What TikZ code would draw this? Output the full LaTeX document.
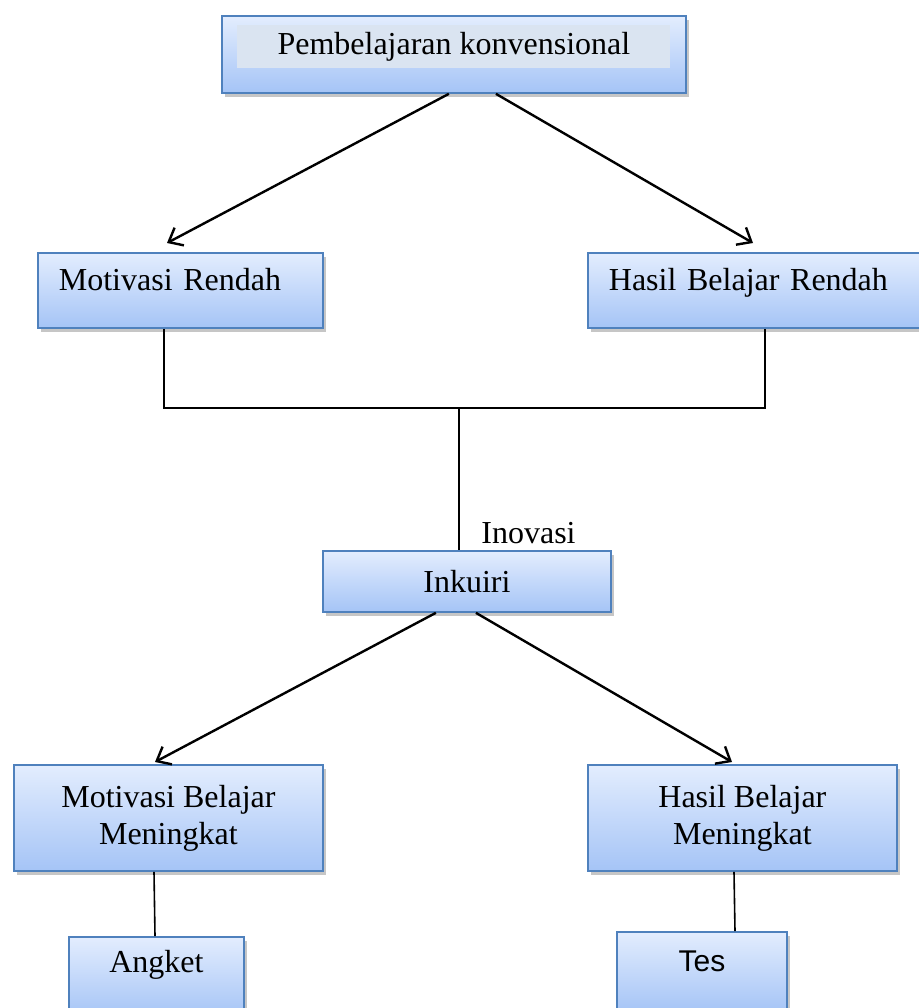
\documentclass[tikz,border=0pt]{standalone}
\usepackage{fontspec}
\setmainfont{Liberation Serif}
\newfontfamily\arialfont{Liberation Sans}
\usetikzlibrary{arrows.meta,calc,positioning,shadows}
\definecolor{BoxTop}{HTML}{E3EDFE}
\definecolor{BoxBottom}{HTML}{A5C4F6}
\definecolor{BoxEdge}{HTML}{4F81BD}
\definecolor{Highlight}{HTML}{DAE4F1}
\definecolor{Ink}{HTML}{000000}
\tikzset{
  blockbox/.style={
    draw=BoxEdge, line width=0.9pt, top color=BoxTop, bottom color=BoxBottom,
    drop shadow={opacity=0.45, shadow xshift=1.5pt, shadow yshift=-2pt},
    anchor=north west, inner sep=0pt, align=center,
    font=\fontsize{16}{18.5}\selectfont
  },
  lowbox/.style={blockbox, text height=11pt},
  flow/.style={-{Straight Barb[length=6pt,width=10pt]}, line width=1.2pt, draw=Ink},
  link/.style={line width=0.8pt, draw=Ink}
}
\begin{document}
\begin{tikzpicture}[x=0.5pt,y=-0.5pt]
    \useasboundingbox (0,0) rectangle (918,1008);
    \node[blockbox,minimum width=232pt,minimum height=38.5pt] (konvBox) at (221,15) {};
    \node[anchor=north west,fill=Highlight,inner sep=0pt,minimum width=216.5pt,minimum height=21.5pt,
      font=\fontsize{16}{18.5}\selectfont] (konv) at (237,25) {Pembelajaran konvensional};
    \node[lowbox,minimum width=142.5pt,minimum height=37.5pt,text depth=10.5pt,
      text width=121.5pt,align=left] (rendah) at (37,252) {Motivasi Rendah};
    \node[lowbox,minimum width=171.5pt,minimum height=37.5pt,text depth=10.5pt,
      text width=150.5pt,align=left] (hasilRendah) at (587,252) {Hasil Belajar Rendah};
    \coordinate (join) at (459,408);
    \node[blockbox,minimum width=144pt,minimum height=30.5pt] (inkuiri) at (322,550) {Inkuiri};
    \node[anchor=base west,inner sep=0pt,font=\fontsize{16}{18.5}\selectfont] (inovasi) at (481,543) {Inovasi};
    \node[blockbox,minimum width=154.5pt,minimum height=53pt] (belajarNaik) at (13,764) {Motivasi Belajar\\Meningkat};
    \node[blockbox,minimum width=154.5pt,minimum height=53pt] (hasilNaik) at (587,764) {Hasil Belajar\\Meningkat};
    \node[lowbox,minimum width=87.5pt,minimum height=40pt,text depth=15pt] (angket) at (68,936) {Angket};
    \node[lowbox,minimum width=85pt,minimum height=40pt,text depth=11pt,
      font=\arialfont\fontsize{15}{18}\selectfont] (tes) at (616,931) {Tes};
    \draw[flow] ([xshift=-2.5pt]konvBox.south) -- ([xshift=65pt,yshift=4.5pt]rendah.north west);
    \draw[flow] ([xshift=21pt]konvBox.south) -- ([xshift=83pt,yshift=4.5pt]hasilRendah.north west);
    \draw[link] ([xshift=63.5pt]rendah.south west) |- (join) -| ([xshift=89pt]hasilRendah.south west);
    \draw[link] (join) -- (join |- inkuiri.north);
    \draw[flow] ([xshift=-15.5pt]inkuiri.south) -- ([xshift=71pt,yshift=1pt]belajarNaik.north west);
    \draw[flow] ([xshift=4.5pt]inkuiri.south) -- ([xshift=72.5pt,yshift=1pt]hasilNaik.north west);
    \draw[link] ([xshift=70.5pt]belajarNaik.south west) -- ([xshift=43.5pt]angket.north west);
    \draw[link] ([xshift=73.5pt]hasilNaik.south west) -- ([xshift=59.5pt]tes.north west);
  \end{tikzpicture}
\end{document}
